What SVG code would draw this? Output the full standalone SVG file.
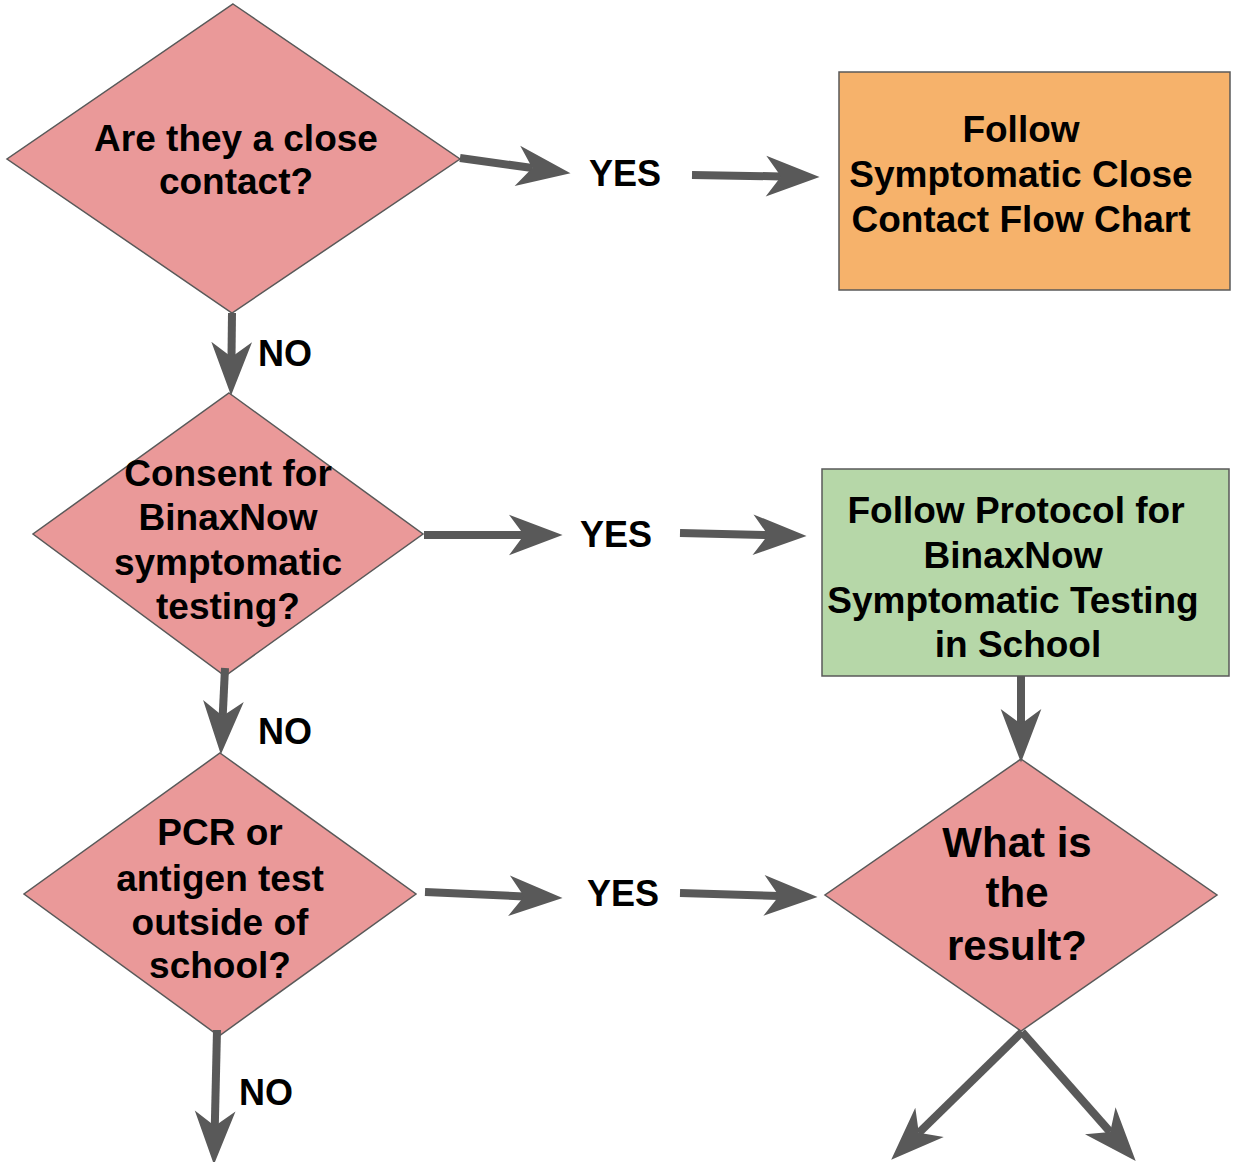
<svg xmlns="http://www.w3.org/2000/svg" width="1233" height="1162" viewBox="0 0 1233 1162">
<style>
.dia{fill:#ea9999;stroke:#595959;stroke-width:1.5}
.box{stroke:#595959;stroke-width:1.5}
.t{font-family:"Liberation Sans",Arial,sans-serif;font-weight:bold;font-size:37px;fill:#000;text-anchor:middle}
.big{font-size:42px}
.lbl{font-family:"Liberation Sans",Arial,sans-serif;font-weight:bold;font-size:36px;fill:#000;text-anchor:middle}
.c{stroke:#595959;stroke-width:8;fill:none;marker-end:url(#ah)}
</style>
<defs>
<marker id="ah" markerUnits="userSpaceOnUse" markerWidth="60" markerHeight="50" viewBox="-16 -22 56 44" refX="0" refY="0" orient="auto">
<path d="M36 0 L-14 -19 L0 0 L-14 19 Z" fill="#595959"/>
</marker>
</defs>
<rect width="1233" height="1162" fill="#fff"/>
<g id="n1">
<polygon class="dia" points="233,4 460,159 232,313 7,159"/>
<text class="t" x="236" y="151">Are they a close</text>
<text class="t" x="236" y="194">contact?</text>
</g>
<g id="n2">
<rect class="box" x="839" y="72" width="391" height="218" fill="#f6b26b"/>
<text class="t" x="1021" y="142">Follow</text>
<text class="t" x="1021" y="187">Symptomatic Close</text>
<text class="t" x="1021" y="232">Contact Flow Chart</text>
</g>
<g id="n3">
<polygon class="dia" points="229,393 423,534 225,676 33,534"/>
<text class="t" x="228" y="486">Consent for</text>
<text class="t" x="228" y="530">BinaxNow</text>
<text class="t" x="228" y="575">symptomatic</text>
<text class="t" x="228" y="619">testing?</text>
</g>
<g id="n4">
<rect class="box" x="822" y="469" width="407" height="207" fill="#b6d7a8"/>
<text class="t" x="1016" y="523">Follow Protocol for</text>
<text class="t" x="1013" y="568">BinaxNow</text>
<text class="t" x="1013" y="613">Symptomatic Testing</text>
<text class="t" x="1018" y="657">in School</text>
</g>
<g id="n5">
<polygon class="dia" points="220,753 416,894 219,1036 24,894"/>
<text class="t" x="220" y="845">PCR or</text>
<text class="t" x="220" y="891">antigen test</text>
<text class="t" x="220" y="935">outside of</text>
<text class="t" x="220" y="978">school?</text>
</g>
<g id="n6">
<polygon class="dia" points="1021,759 1217,895 1021,1031 825,895"/>
<text class="t big" x="1017" y="857">What is</text>
<text class="t big" x="1017" y="907">the</text>
<text class="t big" x="1017" y="960">result?</text>
</g>
<g id="connectors">
<line class="c" x1="460" y1="158" x2="532.3" y2="168"/>
<line class="c" x1="692" y1="175" x2="781" y2="176.4"/>
<line class="c" x1="232" y1="313" x2="231.5" y2="357"/>
<line class="c" x1="424" y1="535" x2="524" y2="535"/>
<line class="c" x1="680" y1="533" x2="768" y2="535.1"/>
<line class="c" x1="1021" y1="676" x2="1021" y2="724"/>
<line class="c" x1="225" y1="668" x2="222.7" y2="716"/>
<line class="c" x1="425" y1="892" x2="524" y2="896.4"/>
<line class="c" x1="680" y1="893" x2="779" y2="895.9"/>
<line class="c" x1="217" y1="1030" x2="214.8" y2="1126"/>
<line class="c" x1="1022" y1="1032" x2="918.8" y2="1132.8"/>
<line class="c" x1="1022" y1="1032" x2="1110.2" y2="1132"/>
<text class="lbl" x="625" y="186">YES</text>
<text class="lbl" x="285" y="366">NO</text>
<text class="lbl" x="616" y="547">YES</text>
<text class="lbl" x="285" y="744">NO</text>
<text class="lbl" x="623" y="906">YES</text>
<text class="lbl" x="266" y="1105">NO</text>
</g>
</svg>
